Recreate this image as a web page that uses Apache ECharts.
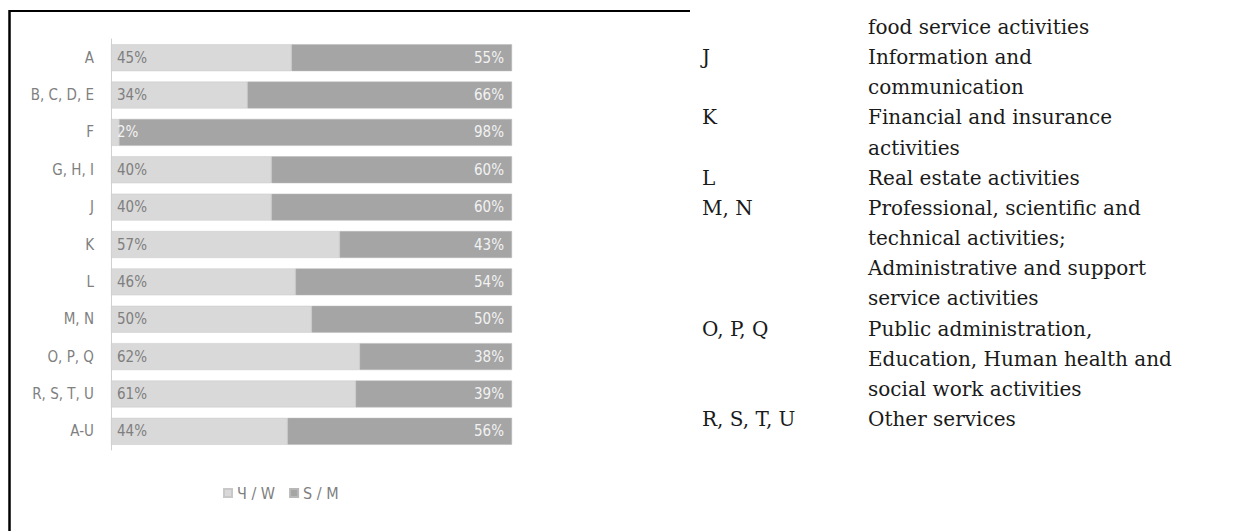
<!DOCTYPE html>
<html><head><meta charset="utf-8">
<script src="https://cdn.jsdelivr.net/npm/echarts@6/dist/echarts.min.js"></script>
<style>html,body{margin:0;padding:0;background:#fff}#c{width:1254px;height:531px}</style>
</head><body><div id="c"></div>
<script>
const categories = ['A','B, C, D, E','F','G, H, I','J','K','L','M, N','O, P, Q','R, S, T, U','A-U'];
const women = [45,34,2,40,40,57,46,50,62,61,44];
const men = [55,66,98,60,60,43,54,50,38,39,56];
const seriesNames = ['Ч / W','S / M'];
const codeColumn = ['','J','','K','','L','M, N','','','','O, P, Q','','','R, S, T, U'];
const textColumn = ['food service activities','Information and','communication','Financial and insurance','activities','Real estate activities','Professional, scientific and','technical activities;','Administrative and support','service activities','Public administration,','Education, Human health and','social work activities','Other services'];

const narrow = '"DejaVu Sans Condensed","Roboto",sans-serif';
const serif = '"DejaVu Serif","Liberation Serif",serif';
const graphics = [
  {type:'line', shape:{x1:9.5,y1:11,x2:690,y2:11}, style:{stroke:'#000',lineWidth:2}},
  {type:'line', shape:{x1:9.5,y1:10,x2:9.5,y2:531}, style:{stroke:'#000',lineWidth:2.5}}
];
const lineH = 30.15, y0 = 27;
textColumn.forEach((t,i)=>{
  graphics.push({type:'text', x:868, y:y0+i*lineH, style:{text:t, font:'20px '+serif, fill:'#1a1a1a', verticalAlign:'middle'}});
  if (codeColumn[i]) graphics.push({type:'text', x:702, y:y0+i*lineH, style:{text:codeColumn[i], font:'20px '+serif, fill:'#1a1a1a', verticalAlign:'middle'}});
});

const chart = echarts.init(document.getElementById('c'), null, {renderer:'svg'});
chart.setOption({
  animation:false,
  grid:{left:111, right:742, top:39, height:411, containLabel:false},
  legend:{
    bottom:25, left:218, itemWidth:8, itemHeight:8, itemGap:14,
    icon:'rect',
    textStyle:{color:'#7f7f7f', fontSize:16, fontFamily:narrow},
    data:seriesNames
  },
  xAxis:{type:'value', min:0, max:100, show:false},
  yAxis:{type:'category', data:categories, inverse:true,
    axisLine:{show:true, lineStyle:{color:'#d0d0d0', width:1}},
    axisTick:{show:false},
    axisLabel:{color:'#7f7f7f', fontSize:15, fontFamily:narrow, margin:17}
  },
  graphic: graphics,
  series:[
    {name:seriesNames[0], type:'bar', stack:'s', barCategoryGap:'28%', data:women.map((v,i)=>({value:v, label:{color: v<10 ? '#f2f2f2' : '#7f7f7f'}})),
     itemStyle:{color:'#d9d9d9', borderColor:'#c8c8c8', borderWidth:0.5},
     label:{show:true, position:'insideLeft', offset:[1,0], formatter:'{c}%', fontSize:15, fontFamily:narrow, color:'#7f7f7f'}},
    {name:seriesNames[1], type:'bar', stack:'s', data:men,
     itemStyle:{color:'#a5a5a5', borderColor:'#b8b8b8', borderWidth:0.5},
     label:{show:true, position:'insideRight', offset:[-3,0], formatter:'{c}%', fontSize:15, fontFamily:narrow, color:'#f2f2f2'}}
  ]
});
</script></body></html>
